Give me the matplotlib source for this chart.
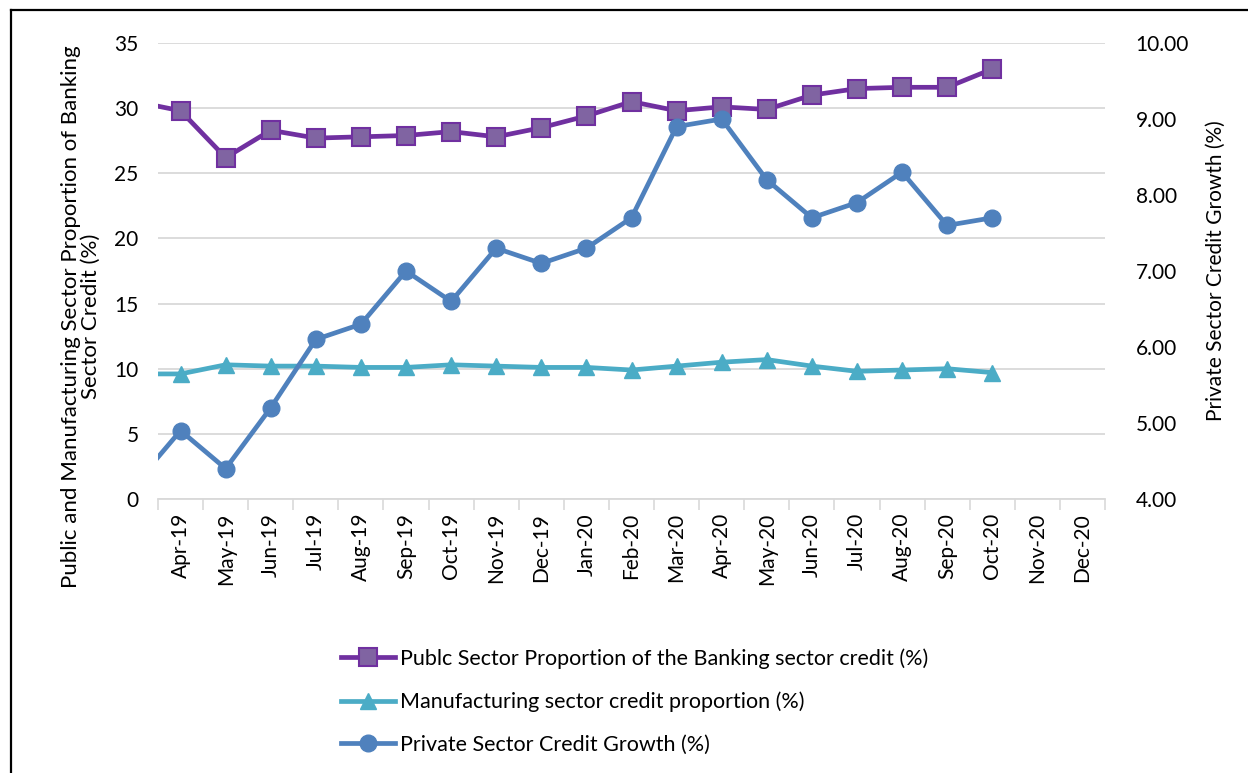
import numpy as np
import matplotlib.pyplot as plt
from matplotlib.lines import Line2D
from matplotlib.ticker import FuncFormatter

plt.rcParams['font.family'] = ['Lato', 'DejaVu Sans']

months = ['Mar-19', 'Apr-19', 'May-19', 'Jun-19', 'Jul-19', 'Aug-19', 'Sep-19',
          'Oct-19', 'Nov-19', 'Dec-19', 'Jan-20', 'Feb-20', 'Mar-20', 'Apr-20',
          'May-20', 'Jun-20', 'Jul-20', 'Aug-20', 'Sep-20', 'Oct-20', 'Nov-20',
          'Dec-20']
public_share = [30.5, 29.8, 26.2, 28.3, 27.7, 27.8, 27.9, 28.2, 27.8, 28.5, 29.4,
                30.5, 29.8, 30.1, 29.9, 31.0, 31.5, 31.6, 31.6, 33.0]
manuf_share = [9.6, 9.6, 10.3, 10.2, 10.2, 10.1, 10.1, 10.3, 10.2, 10.1, 10.1,
               9.9, 10.2, 10.5, 10.7, 10.2, 9.8, 9.9, 10.0, 9.7]
private_growth = [4.2, 4.9, 4.4, 5.2, 6.1, 6.3, 7.0, 6.6, 7.3, 7.1, 7.3,
                  7.7, 8.9, 9.0, 8.2, 7.7, 7.9, 8.3, 7.6, 7.7]

x = np.arange(len(months))
xd = np.arange(len(public_share))

fig = plt.figure(figsize=(12.48, 7.73), dpi=100)
ax = fig.add_axes([158/1248, 1 - 499/773, (1105 - 158)/1248, (499 - 43)/773])
ax2 = ax.twinx()

p1, = ax.plot(xd, public_share, color='#7030A0', lw=3.4, marker='s', ms=13,
              mfc='#8064A2', mec='#7030A0', mew=1.5,
              label='Publc Sector Proportion of the Banking sector credit (%)')
p2, = ax.plot(xd, manuf_share, color='#4BACC6', lw=3.4, marker='^', ms=12,
              mfc='#4BACC6', mec='#4BACC6',
              label='Manufacturing sector credit proportion (%)')
p3, = ax2.plot(xd, private_growth, color='#4F81BD', lw=3.4, marker='o', ms=12,
               mfc='#4F81BD', mec='#4F81BD',
               label='Private Sector Credit Growth (%)')

ax.set_xlim(0.5, len(months) - 0.5)
ax.set_ylim(0, 35)
ax.set_yticks(np.arange(0, 36, 5))
ax2.set_ylim(4, 10)
ax2.set_yticks(np.arange(4, 11, 1))
ax2.yaxis.set_major_formatter(FuncFormatter(lambda v, p: f'{v:.2f}'))

ax.set_xticks(x[1:])
ax.set_xticklabels(months[1:], rotation=90)
ax.set_xticks(np.arange(0.5, len(months), 1), minor=True)
ax.tick_params(axis='x', which='major', length=0, pad=10, labelsize=15)
ax.tick_params(axis='x', which='minor', length=8, color='#D9D9D9', width=1.2)
ax.tick_params(axis='y', length=0, labelsize=15, pad=14)
ax2.tick_params(axis='y', length=0, labelsize=15, pad=22)

ax.grid(axis='y', color='#D9D9D9', lw=1.3)
ax.set_axisbelow(True)
for a in (ax, ax2):
    for s in ('top', 'left', 'right'):
        a.spines[s].set_visible(False)
    a.spines['bottom'].set_color('#D9D9D9')
    a.spines['bottom'].set_linewidth(1.3)
ax2.spines['bottom'].set_visible(False)

ax.set_ylabel('Public and Manufacturing Sector Proportion of Banking\nSector Credit (%)',
              fontsize=16, linespacing=1.0)
ax.yaxis.set_label_coords(-0.06, 0.40)
ax2.set_ylabel('Private Sector Credit Growth (%)', fontsize=15, labelpad=12)

fig.legend(handles=[p1, p2, p3], loc='upper left', bbox_to_anchor=(322/1248, 1 - 629/773),
           frameon=False, fontsize=15.5, handlelength=2.5, labelspacing=1.05,
           handletextpad=0.2)

# outer frame
fig.add_artist(Line2D([11/1248, 11/1248], [0, 1 - 10/773], color='black', lw=1.6))
fig.add_artist(Line2D([11/1248, 1], [1 - 10/773, 1 - 10/773], color='black', lw=1.6))

fig.savefig('out.png', dpi=100)
